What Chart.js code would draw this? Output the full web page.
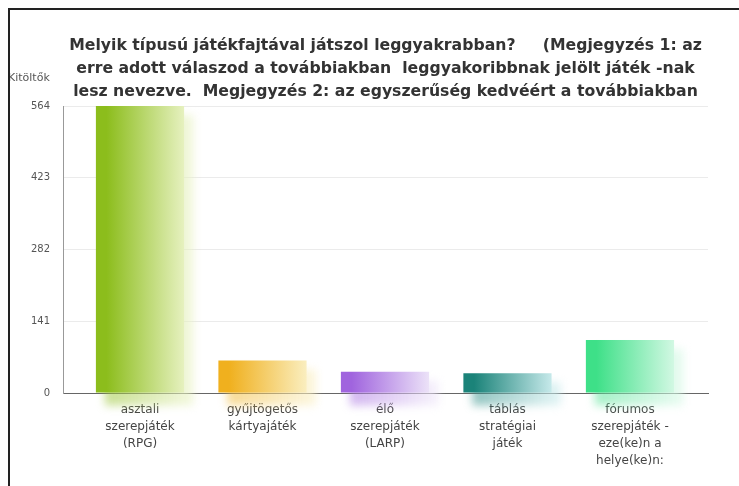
<!DOCTYPE html>
<html>
<head>
<meta charset="utf-8">
<script src="https://cdn.jsdelivr.net/npm/chart.js@4.4.1/dist/chart.umd.min.js"></script>
<style>
  html, body { margin: 0; padding: 0; background: #fff; overflow: hidden; }
  #wrap { position: relative; width: 739px; height: 486px; }
  #c { position: absolute; left: 0; top: 0; }
  #frame { position: absolute; left: 8px; top: 8px; right: -4px; bottom: -4px; border-top: 2px solid #222; border-left: 2px solid #222; pointer-events: none; }
</style>
</head>
<body>
<div id="wrap">
  <canvas id="c" width="739" height="486"></canvas>
  <div id="frame"></div>
</div>
<script>
// ---- data ----
const titleLines = [
  'Melyik típusú játékfajtával játszol leggyakrabban?     (Megjegyzés 1: az',
  'erre adott válaszod a továbbiakban  leggyakoribbnak jelölt játék -nak',
  'lesz nevezve.  Megjegyzés 2: az egyszerűség kedvéért a továbbiakban'
];
const yAxisTitle = 'Kitöltők';
const categories = [
  ['asztali', 'szerepjáték', '(RPG)'],
  ['gyűjtögetős', 'kártyajáték'],
  ['élő', 'szerepjáték', '(LARP)'],
  ['táblás', 'stratégiai', 'játék'],
  ['fórumos', 'szerepjáték -', 'eze(ke)n a', 'helye(ke)n:']
];
const values = [564, 64, 42, 39, 104];
const yTicks = [0, 141, 282, 423, 564];
const darkColors = ['#8cbd1c', '#f0b01e', '#a064de', '#1b8379', '#3ee088'];
const lightColors = ['#e6f1bf', '#faeebf', '#ece2f8', '#c6e9ea', '#d2f8e3'];

function hexA(hex, a) {
  const n = parseInt(hex.slice(1), 16);
  return 'rgba(' + ((n >> 16) & 255) + ',' + ((n >> 8) & 255) + ',' + (n & 255) + ',' + a + ')';
}

const barPct = 0.72;

function barGradient(context) {
  const chart = context.chart;
  const i = context.dataIndex;
  if (!chart.chartArea || i === undefined) return darkColors[i || 0];
  const xs = chart.scales.x;
  const step = xs.getPixelForValue(1) - xs.getPixelForValue(0);
  const w = step * barPct;
  const xc = xs.getPixelForValue(i);
  const g = chart.ctx.createLinearGradient(xc - w / 2, 0, xc + w / 2, 0);
  g.addColorStop(0, darkColors[i]);
  g.addColorStop(0.12, darkColors[i]);
  g.addColorStop(1, lightColors[i]);
  return g;
}

const shadowPlugin = {
  id: 'barShadow',
  beforeDatasetsDraw(chart) {
    const ctx = chart.ctx;
    const meta = chart.getDatasetMeta(0);
    ctx.save();
    ctx.filter = 'blur(4px)';
    meta.data.forEach((bar, i) => {
      const p = bar.getProps(['x', 'y', 'base', 'width'], true);
      const left = p.x - p.width / 2;
      const g = ctx.createLinearGradient(left, 0, left + p.width, 0);
      g.addColorStop(0, hexA(darkColors[i], 0.5));
      g.addColorStop(1, hexA(lightColors[i], 0.6));
      ctx.fillStyle = g;
      ctx.fillRect(left + 9, p.y + 9, p.width, p.base - p.y + 4);
    });
    ctx.restore();
  }
};

const axisTitlePlugin = {
  id: 'axisTitle',
  afterDraw(chart) {
    const ctx = chart.ctx;
    ctx.save();
    ctx.font = '11px "DejaVu Sans"';
    ctx.fillStyle = '#555';
    ctx.textAlign = 'left';
    ctx.textBaseline = 'middle';
    ctx.fillText(yAxisTitle, 8, 78);
    ctx.restore();
  }
};

new Chart(document.getElementById('c'), {
  type: 'bar',
  data: {
    datasets: [{
      data: values.map((v, i) => ({ x: i, y: v })),
      backgroundColor: barGradient,
      borderWidth: 0,
      barPercentage: barPct,
      categoryPercentage: 1
    }]
  },
  options: {
    responsive: false,
    animation: false,
    events: [],
    layout: { padding: { left: 0, right: 31, top: 0, bottom: 9 } },
    plugins: {
      legend: { display: false },
      tooltip: { enabled: false },
      title: {
        display: true,
        fullSize: false,
        text: titleLines,
        color: '#333',
        font: { family: '"DejaVu Sans"', size: 15.7, weight: 'bold', lineHeight: '23px' },
        padding: { top: 34, bottom: 3 }
      }
    },
    scales: {
      x: {
        type: 'linear',
        offset: false,
        min: -0.6286,
        max: 4.637,
        z: 1,
        grid: { display: false, drawTicks: false, offset: false },
        border: { display: true, color: '#666', width: 1 },
        afterBuildTicks: (s) => { s.ticks = categories.map((c, i) => ({ value: i })); },
        ticks: {
          autoSkip: false,
          maxRotation: 0,
          padding: 8,
          color: '#444',
          font: { family: '"DejaVu Sans"', size: 12, lineHeight: '17px' },
          callback: (v) => (Number.isInteger(v) && categories[v]) ? categories[v] : ''
        }
      },
      y: {
        min: 0,
        max: 564,
        afterFit: (s) => { s.width = 63; },
        afterBuildTicks: (s) => { s.ticks = yTicks.map(v => ({ value: v })); },
        grid: { color: '#ebebeb', lineWidth: 1, drawTicks: false },
        border: { display: true, color: '#999', width: 1 },
        ticks: {
          padding: 13,
          color: '#555',
          font: { family: '"DejaVu Sans"', size: 10 }
        }
      }
    }
  },
  plugins: [shadowPlugin, axisTitlePlugin]
});
</script>
</body>
</html>
